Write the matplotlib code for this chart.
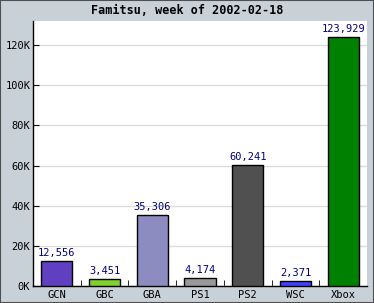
import matplotlib.pyplot as plt
import matplotlib.ticker as mticker
from matplotlib.patches import Rectangle

platforms = ["GCN", "GBC", "GBA", "PS1", "PS2", "WSC", "Xbox"]
sales = [12556, 3451, 35306, 4174, 60241, 2371, 123929]
bar_colors = ["#6040c0", "#80d030", "#8c8cc0", "#999999", "#505050", "#4040ff", "#008000"]
y_ticks = [0, 20000, 40000, 60000, 80000, 100000, 120000]

bg = "#c8d0d8"
mono = "DejaVu Sans Mono"

fig = plt.figure(figsize=(3.74, 3.03), dpi=100, facecolor=bg)
ax = fig.add_axes([33 / 374, 17 / 303, 334 / 374, 265 / 303])
ax.set_facecolor("white")

x = list(range(len(platforms)))
ax.bar(x, sales, width=0.65, color=bar_colors, edgecolor="black", linewidth=1, zorder=3)

for xi, v in zip(x, sales):
    ax.annotate(f"{v:,}", (xi, v), xytext=(0, 2), textcoords="offset points",
                ha="center", va="bottom", color="#000080", fontsize=7.5, family=mono)

ax.set_xlim(-0.5, len(platforms) - 0.5)
ax.set_ylim(0, 132000)

ax.set_yticks(y_ticks)
ax.yaxis.set_major_formatter(mticker.FuncFormatter(lambda v, p: f"{int(v / 1000)}K"))
ax.grid(axis="y", color="#dcdcdc", linewidth=1, zorder=0)
ax.set_xticks(x)
ax.set_xticklabels(platforms)
ax.set_xticks([i + 0.5 for i in x[:-1]], minor=True)

ax.tick_params(axis="y", direction="in", length=4, labelsize=7.5, pad=2)
ax.tick_params(axis="x", which="major", length=0, labelsize=7.5, pad=3)
ax.tick_params(axis="x", which="minor", direction="in", length=4)
for lbl in ax.get_xticklabels() + ax.get_yticklabels():
    lbl.set_family(mono)

for side in ["top", "right"]:
    ax.spines[side].set_visible(False)
ax.spines["left"].set_linewidth(1)
ax.spines["bottom"].set_linewidth(1)

fig.text(0.5, 1 - 10 / 303, "Famitsu, week of 2002-02-18", ha="center", va="center",
         fontsize=8.5, fontweight="bold", family=mono)

fig.patches.append(Rectangle((0, 0), 1, 1, transform=fig.transFigure, fill=False,
                             edgecolor="#505050", linewidth=1.5))

fig.savefig("out.png", dpi=100, facecolor=bg)
